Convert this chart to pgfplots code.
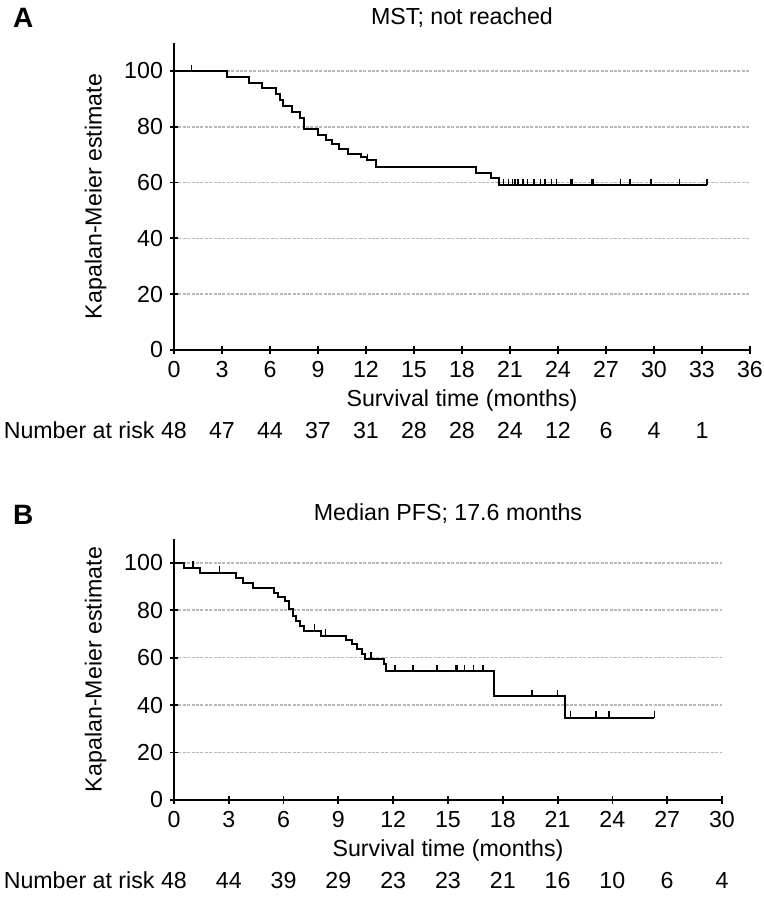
\documentclass[border=0pt]{standalone}
\usepackage{fontspec}
\setmainfont{Liberation Sans}
\usepackage{pgfplots}
\pgfplotsset{compat=1.18}
\pgfdeclareplotmark{cens}{\pgfpathmoveto{\pgfpoint{0pt}{0pt}}\pgfpathlineto{\pgfpoint{0pt}{3.2pt}}\pgfusepathqstroke}
\newcommand{\fs}{\fontsize{11.6}{13}\selectfont}
\pgfplotsset{km/.style={
  scale only axis,
  axis lines=left,
  axis line style={-, line width=1.4pt},
  enlargelimits=false,
  ymin=0, ymax=110,
  ytick={0,20,...,100},
  tick align=center,
  major tick length=4pt,
  tick style={black, line width=0.9pt},
  ymajorgrids,
  grid style={gray!55, line width=0.8pt, dash pattern=on 1.5pt off 0.7pt},
  /pgf/number format/assume math mode=true,
  ticklabel style={font=\fs},
  label style={font=\fs},
  xlabel={Survival time (months)},
  ylabel={Kapalan-Meier estimate},
  ylabel shift=2pt,
  xlabel shift=-1pt,
  clip=false,
}}
\newcommand{\risk}[2]{\node[anchor=base, font=\fs] at (axis cs:#1,0) [yshift=-44pt] {#2};}
\begin{document}
\begin{tikzpicture}
\useasboundingbox (0,0) rectangle (382pt,-453pt);
\node[anchor=west, font=\fontsize{14}{15}\selectfont\bfseries] at (3pt,-9pt) {A};
\begin{axis}[km, at={(87pt,-175pt)}, anchor=south west, width=288pt, height=153.5pt,
  xmin=0, xmax=36, xtick={0,3,...,36}]
\addplot[const plot, line width=1pt, black] coordinates {
(0,100) (3.3,97.9) (4.7,95.8) (5.5,93.7) (6.4,91.6) (6.6,89.6) (6.8,87.5) (7.4,85.4)
(7.9,83.3) (8.1,79.2) (9.0,77.1) (9.5,75.4) (9.9,73.8) (10.3,72.0) (10.9,70.3)
(11.7,69.0) (12.05,68.0) (12.6,65.7) (18.9,63.3) (19.8,61.5) (20.3,59.0) (33.3,59.0)};
\addplot[only marks, mark=cens, mark options={line width=0.8pt}, black] coordinates {
(1.1,100) (12.1,68.0) (20.6,59.0) (20.9,59.0) (21.15,59.0) (21.3,59.0) (21.5,59.0) (21.8,59.0)
(22.1,59.0) (22.5,59.0) (22.9,59.0) (23.2,59.0) (23.6,59.0) (23.9,59.0) (24.8,59.0) (24.9,59.0)
(26.1,59.0) (26.2,59.0) (27.9,59.0) (28.5,59.0) (29.8,59.0) (31.6,59.0) (33.3,59.0)};
\node[font=\fs] at (rel axis cs:0.5,1) [yshift=12.5pt] {MST; not reached};
\node[anchor=base east, inner sep=0pt, font=\fs] at (axis cs:0,0) [yshift=-44pt, xshift=-9.5pt] {Number at risk};
\risk{0}{48}\risk{3}{47}\risk{6}{44}\risk{9}{37}\risk{12}{31}\risk{15}{28}
\risk{18}{28}\risk{21}{24}\risk{24}{12}\risk{27}{6}\risk{30}{4}\risk{33}{1}
\end{axis}
\node[anchor=west, font=\fontsize{14}{15}\selectfont\bfseries] at (3pt,-257.5pt) {B};
\begin{axis}[km, at={(87pt,-400pt)}, anchor=south west, width=274pt, height=130.5pt,
  xmin=0, xmax=30, xtick={0,3,...,30}]
\addplot[const plot, line width=1pt, black] coordinates {
(0,100) (0.55,97.9) (1.41,95.8) (3.4,93.7) (3.8,91.6) (4.3,89.5) (5.45,87.4) (5.7,85.4)
(6.06,83.8) (6.3,80.5) (6.5,77.7) (6.7,75.6) (6.9,73.5) (7.1,71.4) (8.04,69.3)
(9.4,67.5) (9.76,65.8) (10.0,63.7) (10.3,61.6) (10.45,59.5) (11.5,57.4) (11.6,54.3)
(17.5,43.7) (21.4,34.7) (26.3,34.7)};
\addplot[only marks, mark=cens, mark options={line width=0.8pt}, black] coordinates {
(1.04,97.9) (2.5,95.8) (7.7,71.4) (8.3,69.3) (10.8,59.5) (12.1,54.3) (13.1,54.3) (14.4,54.3)
(15.4,54.3) (15.5,54.3) (15.9,54.3) (16.4,54.3) (16.9,54.3) (19.6,43.7) (21.0,43.7)
(21.7,34.7) (23.1,34.7) (23.8,34.7) (26.3,34.7)};
\node[font=\fs] at (rel axis cs:0.5,1) [yshift=12.5pt] {Median PFS; 17.6 months};
\node[anchor=base east, inner sep=0pt, font=\fs] at (axis cs:0,0) [yshift=-44pt, xshift=-9.5pt] {Number at risk};
\risk{0}{48}\risk{3}{44}\risk{6}{39}\risk{9}{29}\risk{12}{23}\risk{15}{23}
\risk{18}{21}\risk{21}{16}\risk{24}{10}\risk{27}{6}\risk{30}{4}
\end{axis}
\end{tikzpicture}
\end{document}
